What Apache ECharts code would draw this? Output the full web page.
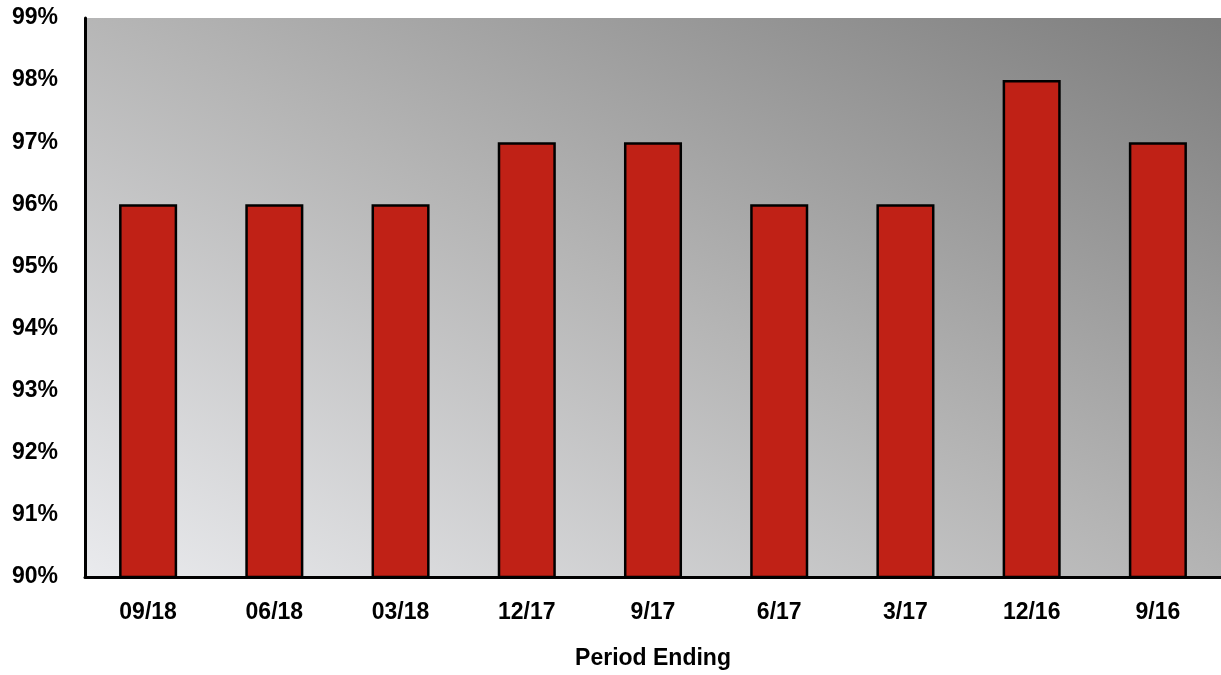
<!DOCTYPE html>
<html>
<head>
<meta charset="utf-8">
<script src="https://cdn.jsdelivr.net/npm/echarts@6/dist/echarts.min.js"></script>
<style>html,body{margin:0;padding:0;background:#fff;}#c{width:1221px;height:675px;}</style>
</head>
<body>
<div id="c"></div>
<script>
var categories = ['09/18','06/18','03/18','12/17','9/17','6/17','3/17','12/16','9/16'];
var values = [96, 96, 96, 97, 97, 96, 96, 98, 97];
var yMin = 90, yMax = 99, yStep = 1;

var W = 1221, H = 675;
var gl = 85, gr = 0, gt = 18, gb = 87;
var w = W - gl - gr, h = H - gt - gb;
// gradient whose isolines run along the top-left -> bottom-right diagonal
var n = Math.sqrt(w*w + h*h);
var ux = h / n, uy = -w / n;
var proj = (w/2 * h + h/2 * w) / n;
var sx = 0.5 - ux*proj / w, sy = 0.5 - uy*proj / h;
var ex = 0.5 + ux*proj / w, ey = 0.5 + uy*proj / h;

var chart = echarts.init(document.getElementById('c'), null, {renderer:'canvas'});
var font = {fontFamily:'Liberation Sans, Arial, sans-serif', fontWeight:'bold', fontSize:23, color:'#000'};
chart.setOption({
  animation:false,
  grid:{left:gl, right:gr, top:gt, bottom:gb, show:true, borderWidth:0,
    backgroundColor:{type:'linear', x:sx, y:sy, x2:ex, y2:ey, colorStops:[
      {offset:0, color:'#e9eaed'}, {offset:0.5, color:'#b5b5b5'}, {offset:1, color:'#7e7e7e'}]}},
  xAxis:{type:'category', data:categories,
    axisLine:{lineStyle:{color:'#000', width:3}}, axisTick:{show:false},
    axisLabel:Object.assign({margin:24}, font),
    name:'Period Ending', nameLocation:'middle', nameGap:70,
    nameTextStyle:font},
  yAxis:{type:'value', min:yMin, max:yMax, interval:yStep,
    axisLine:{show:true, lineStyle:{color:'#000', width:3}}, axisTick:{show:false},
    splitLine:{show:false},
    axisLabel:Object.assign({margin:27, formatter:'{value}%'}, font)},
  series:[{type:'bar', data:values, barWidth:'46%',
    itemStyle:{color:'#c02116', borderColor:'#000', borderWidth:2.5}}]
});
</script>
</body>
</html>
